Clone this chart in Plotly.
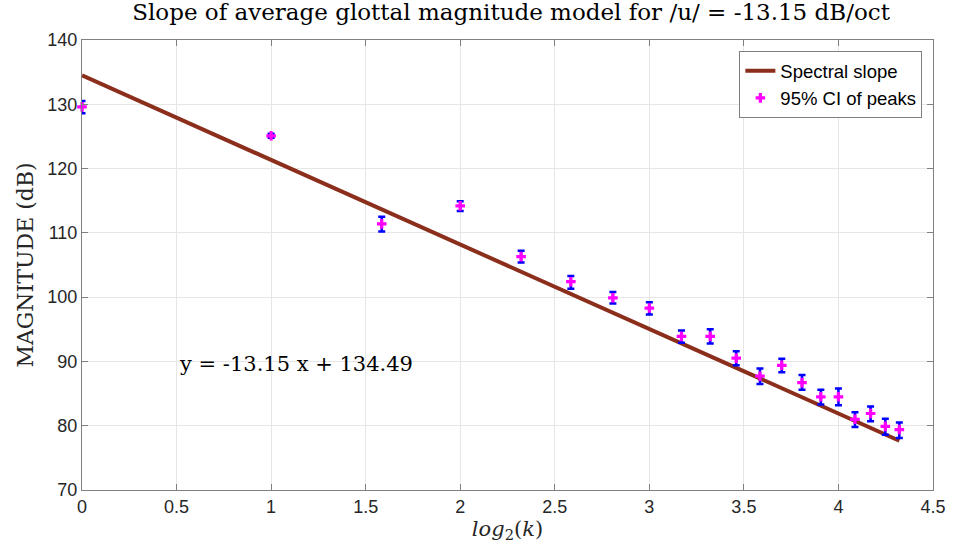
import numpy as np
import plotly.graph_objects as go

# Harmonic indices and x = log2(k)
harmonics = list(range(1, 21))
peak_mean = [129.6, 125.1, 111.4, 114.2, 106.3, 102.4, 99.9, 98.3, 93.9, 93.9,
             90.5, 87.7, 89.4, 86.7, 84.5, 84.5, 81.0, 81.9, 79.9, 79.4]
ci_upper = [130.5, 125.4, 112.5, 114.9, 107.2, 103.3, 100.8, 99.2, 94.8, 95.0,
            91.6, 88.9, 90.4, 87.9, 85.6, 85.8, 82.1, 83.0, 81.1, 80.5]
ci_lower = [128.6, 124.8, 110.2, 113.4, 105.4, 101.3, 99.0, 97.3, 92.9, 92.8,
            89.4, 86.5, 88.3, 85.6, 83.3, 83.2, 79.8, 80.7, 78.6, 78.1]
slope = -13.15
intercept = 134.49
x_ticks = [0, 0.5, 1, 1.5, 2, 2.5, 3, 3.5, 4, 4.5]
y_ticks = [70, 80, 90, 100, 110, 120, 130, 140]

x = np.log2(harmonics)
fit_x = [x[0], x[-1]]
fit_y = [slope * v + intercept for v in fit_x]
err_plus = [u - m for u, m in zip(ci_upper, peak_mean)]
err_minus = [m - l for m, l in zip(peak_mean, ci_lower)]

fig = go.Figure()
fig.add_trace(go.Scatter(
    x=fit_x, y=fit_y, mode="lines", name="Spectral slope",
    line=dict(color="#8B2E1C", width=4), cliponaxis=False))
fig.add_trace(go.Scatter(
    x=x, y=peak_mean, mode="markers", name="95% CI of peaks",
    marker=dict(color="#FF00FF", symbol="cross", size=8),
    cliponaxis=False,
    error_y=dict(type="data", symmetric=False, array=err_plus, arrayminus=err_minus,
                 color="#0000FF", thickness=2.5, width=3.5)))

serif = "DejaVu Serif, Liberation Serif, serif"
sans = "Liberation Sans, Arial, sans-serif"

fig.add_annotation(x=0.5, y=89.6, xref="x", yref="y", xanchor="left", yanchor="middle",
                   text="y = -13.15 x + 134.49", showarrow=False,
                   font=dict(family=serif, size=21, color="#000000"))

fig.update_layout(
    width=958, height=551,
    margin=dict(l=82, r=17, t=40, b=61),
    paper_bgcolor="white", plot_bgcolor="white",
    title=dict(text="Slope of average glottal magnitude model for /u/ = -13.15 dB/oct",
               x=0.5335, xanchor="center", y=0.978, yanchor="middle",
               font=dict(family=serif, size=23, color="#000000")),
    legend=dict(x=0.9875, xanchor="right", y=0.975, yanchor="top",
                bgcolor="white", bordercolor="#7F7F7F", borderwidth=1,
                font=dict(family=sans, size=18.5, color="#000000"),
                tracegroupgap=0, itemwidth=30),
    showlegend=True,
)
fig.update_xaxes(
    range=[0, 4.5], tickvals=x_ticks, ticktext=[f"{v:g}" for v in x_ticks],
    showgrid=True, gridcolor="#E6E6E6", gridwidth=1,
    showline=True, linecolor="#808080", linewidth=1, mirror="ticks",
    ticks="inside", ticklen=6, tickcolor="#808080",
    zeroline=False,
    tickfont=dict(family=sans, size=18, color="#262626"),
    title=dict(text="<i>log</i><sub>2</sub>(<i>k</i>)", standoff=5,
               font=dict(family=serif, size=21, color="#262626")))
fig.update_yaxes(
    range=[70, 140], tickvals=y_ticks,
    showgrid=True, gridcolor="#E6E6E6", gridwidth=1,
    showline=True, linecolor="#808080", linewidth=1, mirror="ticks",
    ticks="inside", ticklen=6, tickcolor="#808080",
    zeroline=False,
    tickfont=dict(family=sans, size=18, color="#262626"),
    title=dict(text="MAGNITUDE (dB)", standoff=7,
               font=dict(family=serif, size=22, color="#262626")))

fig.write_html("out.html")
